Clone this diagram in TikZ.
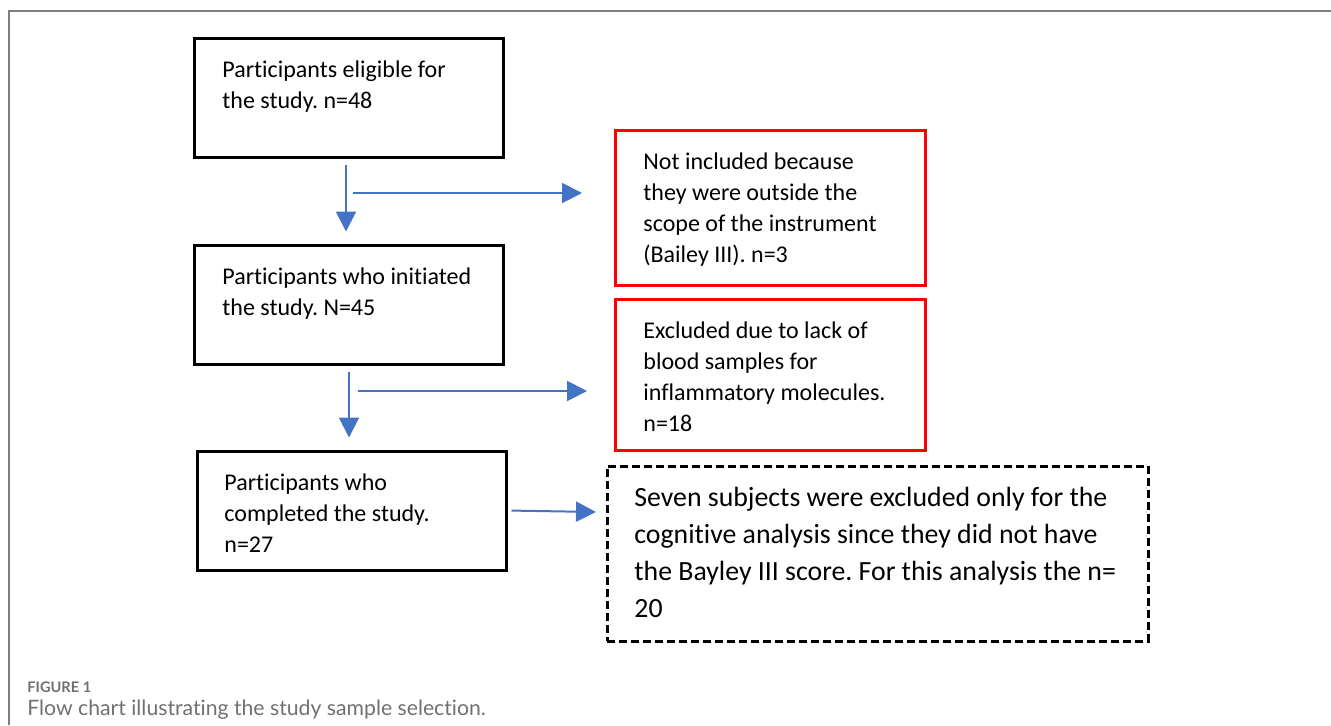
\documentclass[tikz,border=0pt]{standalone}
\usepackage{fontspec}
\setmainfont{Carlito}[Ligatures=NoCommon]
\newfontfamily\capfont{Lato}[Ligatures=NoCommon]
\usetikzlibrary{arrows.meta,positioning,calc}
\definecolor{flowblue}{HTML}{4472C4}
\definecolor{exclred}{HTML}{FF0000}
\definecolor{framegray}{HTML}{7F7F7F}
\definecolor{capgray}{HTML}{707070}
\frenchspacing

\begin{document}
\begin{tikzpicture}[x=0.5pt,y=-0.5pt,
  stagebox/.style={draw=black,line width=1.5pt,minimum width=154.5pt,minimum height=59.5pt,inner sep=0pt},
  exclbox/.style={draw=exclred,line width=1.5pt,minimum width=155pt,inner sep=0pt},
  notebox/.style={draw=black,line width=1.5pt,dash pattern=on 4pt off 2pt,minimum width=270.5pt,minimum height=87.5pt,inner sep=0pt},
  boxtext/.style={anchor=north west,align=left,inner sep=0pt,font=\fontsize{12}{15.6}\selectfont},
  flow/.style={flowblue,line width=1pt,-{Triangle[length=10pt,width=10pt]}}]
  \useasboundingbox (0,0) rectangle (1331,725);
  % frame of the figure
  \draw[framegray,line width=0.75pt] (9,725) -- (9,11) -- (1331,11);

  % main stages
  \node[stagebox] (elig) at (348.5,97.5) {};
  \node[stagebox] (init) at (348.5,304.5) {};
  \node[stagebox] (done) at (351.5,510.5) {};
  \node[boxtext] (eligtxt) at (222,60) {Participants eligible for\\the study. n=48};
  \node[boxtext] (inittxt) at (222,267) {Participants who initiated\\the study. N=45};
  \node[boxtext] (donetxt) at (224,473) {Participants who\\completed the study.\\n=27};

  % exclusions
  \node[exclbox,minimum height=77.5pt] (scope) at (770,207.5) {};
  \node[exclbox,minimum height=75.5pt] (blood) at (770,374.5) {};
  \node[notebox] (bayley) at (877.5,553.5) {};
  \node[boxtext] (scopetxt) at (643,152) {Not included because\\they were outside the\\scope of the instrument\\(Bailey III). n=3};
  \node[boxtext] (bloodtxt) at (643,321) {Excluded due to lack of\\blood samples for\\inflammatory molecules.\\n=18};
  \node[boxtext,font=\fontsize{13.9}{18.5}\selectfont] (bayleytxt) at (634,487)
    {Seven subjects were excluded only for the\\cognitive analysis since they did not have\\the Bayley III score. For this analysis the n=\\20};

  % connectors
  \coordinate (split1) at (353,193);
  \coordinate (to1) at (582,193);
  \coordinate (split2) at (358,391);
  \coordinate (to2) at (587,391);
  \coordinate (to3) at (596,512);
  \draw[flow,shorten <=3pt,shorten >=6pt] ([xshift=-1.25pt]elig.south) -- ([xshift=-1.25pt]init.north);
  \draw[flow] (split1) -- (to1);
  \draw[flow,shorten <=3pt,shorten >=6pt] ([xshift=0.25pt]init.south) -- ([xshift=0.25pt]init.south |- done.north);
  \draw[flow] (split2) -- (to2);
  \draw[flow,shorten <=2pt] (done.east) -- (to3);

  % caption
  \node[anchor=base west,inner sep=0pt,text=capgray,font=\capfont\bfseries\fontsize{7.3}{8}\selectfont] (fignum) at (27,692) {FIGURE 1};
  \node[anchor=base west,inner sep=0pt,text=capgray,font=\capfont\fontsize{10.6}{12}\selectfont] (figcap) at (27,715) {Flow chart illustrating the study sample selection.};
\end{tikzpicture}
\end{document}
